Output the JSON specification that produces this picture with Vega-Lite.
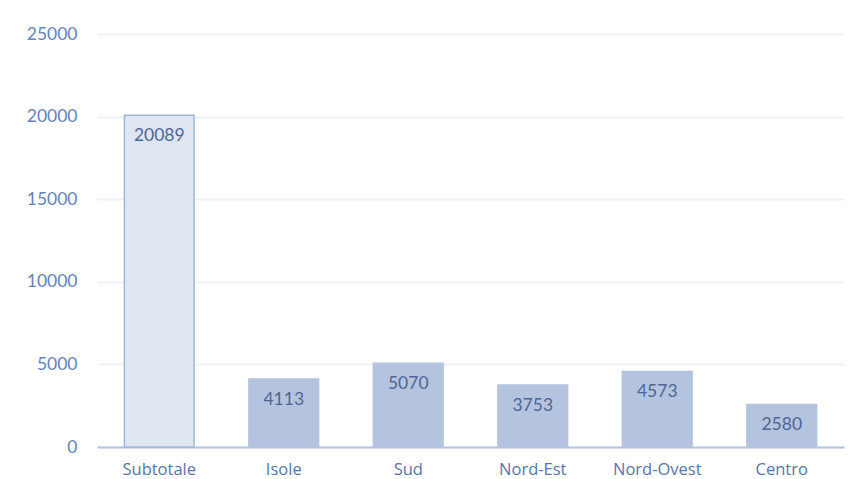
{
  "$schema": "https://vega.github.io/schema/vega-lite/v6.json",
  "width": 747,
  "height": 413,
  "autosize": {"type": "none"},
  "padding": {"left": 97, "top": 34, "right": 16, "bottom": 32},
  "background": "white",
  "config": {"view": {"stroke": null}, "font": "Lato"},
  "data": {"values": [
    {"area": "Subtotale", "value": 20089, "kind": "sub"},
    {"area": "Isole", "value": 4113, "kind": "reg"},
    {"area": "Sud", "value": 5070, "kind": "reg"},
    {"area": "Nord-Est", "value": 3753, "kind": "reg"},
    {"area": "Nord-Ovest", "value": 4573, "kind": "reg"},
    {"area": "Centro", "value": 2580, "kind": "reg"}
  ]},
  "encoding": {
    "x": {"field": "area", "type": "nominal", "sort": null,
      "scale": {"paddingInner": 0.44, "paddingOuter": 0.22},
      "axis": {"title": null, "labelAngle": 0, "labelFont": "Open Sans", "labelFontSize": 16.5, "labelColor": "#5676ab",
        "labelPadding": 14, "ticks": false, "domainColor": "#b3c3e0", "domainWidth": 2, "grid": false}},
    "y": {"field": "value", "type": "quantitative",
      "scale": {"domain": [0, 25000], "nice": false},
      "axis": {"title": null, "values": [0, 5000, 10000, 15000, 20000, 25000], "format": "d",
        "labelFontSize": 17.5, "labelColor": "#6384bd", "labelPadding": 20, "ticks": false, "domain": false,
        "gridColor": "#eef1f8", "gridWidth": 2}}
  },
  "layer": [
    {"mark": {"type": "bar", "strokeWidth": 1.5},
      "encoding": {
        "fill": {"field": "kind", "type": "nominal", "scale": {"domain": ["sub", "reg"], "range": ["#dfe6f2", "#b5c4de"]}, "legend": null},
        "stroke": {"field": "kind", "type": "nominal", "scale": {"domain": ["sub", "reg"], "range": ["#a3b6d8", "#b5c4de"]}, "legend": null}
      }},
    {"mark": {"type": "text", "baseline": "middle", "dy": 21, "fontSize": 17.5, "color": "#4d6696"},
      "encoding": {"text": {"field": "value", "type": "quantitative", "format": "d"}}}
  ]
}
